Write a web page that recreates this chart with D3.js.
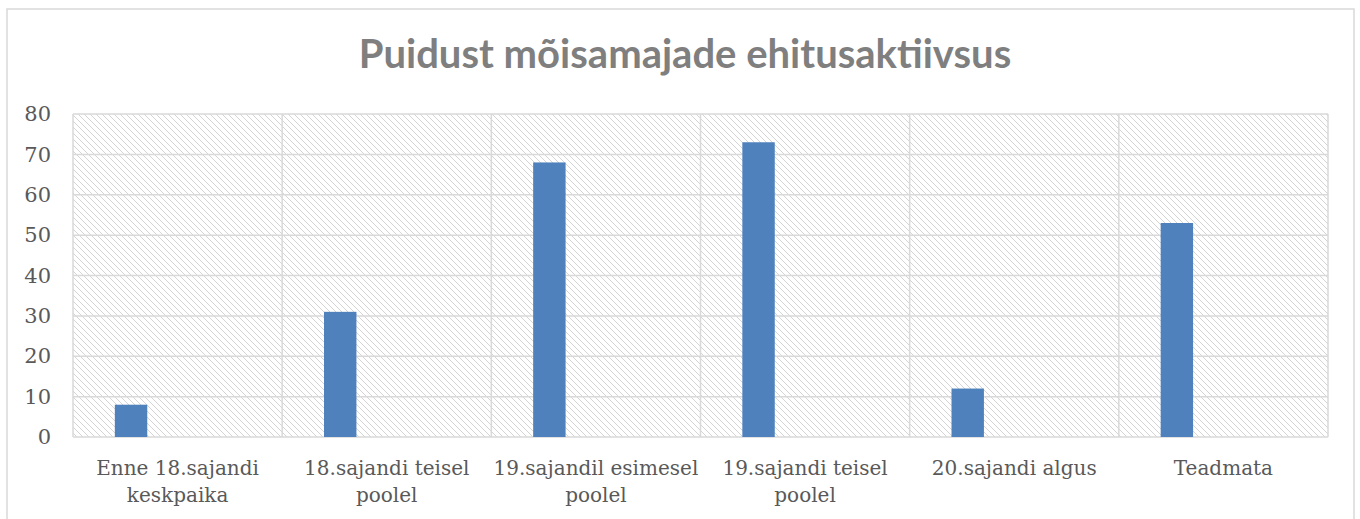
<!DOCTYPE html>
<html>
<head>
<meta charset="utf-8">
<script src="https://cdn.jsdelivr.net/npm/d3@7"></script>
<style>
  html, body { margin: 0; padding: 0; background: #fff; }
  svg { display: block; }
</style>
</head>
<body>
<svg id="chart" width="1360" height="519"></svg>
<script>
// data
var categories = [
  ["Enne 18.sajandi", "keskpaika"],
  ["18.sajandi teisel", "poolel"],
  ["19.sajandil esimesel", "poolel"],
  ["19.sajandi teisel", "poolel"],
  ["20.sajandi algus"],
  ["Teadmata"]
];
var values = [8, 31, 68, 73, 12, 53];
var yTicks = [0, 10, 20, 30, 40, 50, 60, 70, 80];
var title = "Puidust mõisamajade ehitusaktiivsus";

var svg = d3.select("#chart");
var width = +svg.attr("width"),
    height = +svg.attr("height");

var margin = {left: 73, right: 1328, top: 114, bottom: 437};

// outer chart frame
svg.append("rect")
  .attr("x", 7).attr("y", 9)
  .attr("width", 1347).attr("height", 540)
  .attr("fill", "#fff")
  .attr("stroke", "#d9d9d9")
  .attr("stroke-width", 1.5);

// hatch pattern for plot area
var defs = svg.append("defs");
var pat = defs.append("pattern")
  .attr("id", "hatch")
  .attr("patternUnits", "userSpaceOnUse")
  .attr("width", 6).attr("height", 6);
pat.append("rect").attr("width", 6).attr("height", 6).attr("fill", "#fff");
pat.append("path")
  .attr("d", "M-1,-1 L7,7 M-1,5 L1,7 M5,-1 L7,1")
  .attr("stroke", "#d4d4d4")
  .attr("stroke-width", 1);

var idx = d3.range(categories.length);

var x = d3.scaleBand()
  .domain(idx)
  .range([margin.left, margin.right])
  .paddingInner(0).paddingOuter(0);

var y = d3.scaleLinear()
  .domain([0, 80])
  .range([margin.bottom, margin.top]);

svg.append("rect")
  .attr("x", margin.left).attr("y", margin.top)
  .attr("width", margin.right - margin.left)
  .attr("height", margin.bottom - margin.top)
  .attr("fill", "url(#hatch)");

// horizontal grid
svg.append("g")
  .selectAll("line")
  .data(yTicks)
  .join("line")
  .attr("x1", margin.left).attr("x2", margin.right)
  .attr("y1", d => y(d)).attr("y2", d => y(d))
  .attr("stroke", "#d9d9d9")
  .attr("stroke-width", 1.5);

// vertical grid at category boundaries
svg.append("g")
  .selectAll("line")
  .data(idx.concat([categories.length]))
  .join("line")
  .attr("x1", d => d < categories.length ? x(d) : margin.right)
  .attr("x2", d => d < categories.length ? x(d) : margin.right)
  .attr("y1", margin.top).attr("y2", margin.bottom)
  .attr("stroke", "#d9d9d9")
  .attr("stroke-width", 1.5);

// bars sit in the first slot of the group
var bw = x.bandwidth();
svg.append("g")
  .selectAll("rect")
  .data(values)
  .join("rect")
  .attr("x", (d, i) => x(i) + bw * 0.2)
  .attr("width", bw * 0.155)
  .attr("y", d => y(d))
  .attr("height", d => y(0) - y(d))
  .attr("fill", "#4f81bd");

// y axis labels
var yAxis = d3.axisLeft(y)
  .tickValues(yTicks)
  .tickSize(0)
  .tickPadding(0);
var gY = svg.append("g")
  .attr("transform", "translate(51,0)")
  .call(yAxis);
gY.select(".domain").remove();
gY.selectAll("text")
  .attr("font-family", "'DejaVu Serif', serif")
  .attr("font-size", 21)
  .attr("fill", "#595959");

// x category labels
var gX = svg.append("g");
gX.selectAll("text")
  .data(categories)
  .join("text")
  .attr("x", (d, i) => x(i) + bw / 2)
  .attr("y", 475)
  .attr("text-anchor", "middle")
  .attr("font-family", "'DejaVu Serif', serif")
  .attr("font-size", 20)
  .attr("fill", "#595959")
  .selectAll("tspan")
  .data(d => d)
  .join("tspan")
  .attr("x", function() { return this.parentNode.getAttribute("x"); })
  .attr("dy", (d, i) => i === 0 ? 0 : 27)
  .text(d => d);

// title
svg.append("text")
  .attr("x", 685)
  .attr("y", 68)
  .attr("text-anchor", "middle")
  .attr("font-family", "Lato, 'Open Sans', sans-serif")
  .attr("font-weight", "bold")
  .attr("font-size", 40)
  .attr("fill", "#7f7f7f")
  .text(title);
</script>
</body>
</html>
